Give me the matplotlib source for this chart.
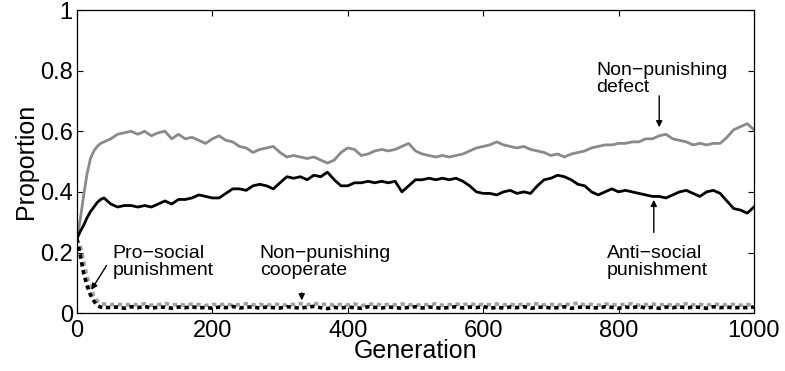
import matplotlib
matplotlib.use("Agg")
import matplotlib.pyplot as plt

plt.rcParams['font.family'] = ['Liberation Sans', 'DejaVu Sans']

generation = [0, 5, 10, 15, 20, 25, 30, 35, 40, 50, 60, 70, 80, 90, 100, 110, 120, 130, 140, 150,
              160, 170, 180, 190, 200, 210, 220, 230, 240, 250, 260, 270, 280, 290, 300, 310, 320,
              330, 340, 350, 360, 370, 380, 390, 400, 410, 420, 430, 440, 450, 460, 470, 480, 490,
              500, 510, 520, 530, 540, 550, 560, 570, 580, 590, 600, 610, 620, 630, 640, 650, 660,
              670, 680, 690, 700, 710, 720, 730, 740, 750, 760, 770, 780, 790, 800, 810, 820, 830,
              840, 850, 860, 870, 880, 890, 900, 910, 920, 930, 940, 950, 960, 970, 980, 990, 1000]

nonpunishing_defect = [0.245, 0.31, 0.39, 0.46, 0.51, 0.535, 0.55, 0.56, 0.565, 0.575, 0.59, 0.595,
                       0.60, 0.59, 0.60, 0.585, 0.595, 0.60, 0.575, 0.59, 0.575, 0.58, 0.57, 0.56,
                       0.575, 0.585, 0.57, 0.565, 0.55, 0.545, 0.53, 0.54, 0.545, 0.55, 0.53, 0.515,
                       0.52, 0.515, 0.51, 0.515, 0.505, 0.495, 0.505, 0.53, 0.545, 0.54, 0.52, 0.525,
                       0.535, 0.54, 0.535, 0.54, 0.55, 0.56, 0.535, 0.525, 0.52, 0.515, 0.52, 0.515,
                       0.52, 0.525, 0.535, 0.545, 0.55, 0.555, 0.565, 0.555, 0.55, 0.545, 0.55, 0.54,
                       0.535, 0.53, 0.52, 0.525, 0.515, 0.525, 0.53, 0.535, 0.545, 0.55, 0.555, 0.555,
                       0.56, 0.56, 0.565, 0.565, 0.575, 0.575, 0.585, 0.59, 0.575, 0.57, 0.565, 0.555,
                       0.56, 0.555, 0.56, 0.56, 0.58, 0.605, 0.615, 0.625, 0.605]

antisocial_punishment = [0.245, 0.27, 0.29, 0.315, 0.335, 0.35, 0.365, 0.375, 0.38, 0.36, 0.35, 0.355,
                         0.355, 0.35, 0.355, 0.35, 0.36, 0.37, 0.36, 0.375, 0.375, 0.38, 0.39, 0.385,
                         0.38, 0.38, 0.395, 0.41, 0.41, 0.405, 0.42, 0.425, 0.42, 0.41, 0.43, 0.45,
                         0.445, 0.45, 0.44, 0.455, 0.45, 0.465, 0.44, 0.42, 0.42, 0.43, 0.43, 0.435,
                         0.43, 0.435, 0.43, 0.435, 0.40, 0.42, 0.44, 0.44, 0.445, 0.44, 0.445, 0.44,
                         0.445, 0.435, 0.42, 0.40, 0.395, 0.395, 0.39, 0.40, 0.405, 0.395, 0.40, 0.395,
                         0.42, 0.44, 0.445, 0.455, 0.45, 0.44, 0.425, 0.42, 0.40, 0.39, 0.40, 0.41,
                         0.40, 0.405, 0.40, 0.395, 0.39, 0.385, 0.385, 0.38, 0.39, 0.40, 0.405, 0.395,
                         0.385, 0.40, 0.405, 0.395, 0.37, 0.345, 0.34, 0.33, 0.35]

nonpunishing_cooperate = [0.245, 0.22, 0.17, 0.12, 0.085, 0.055, 0.04, 0.032, 0.03, 0.028, 0.03, 0.026,
                          0.029, 0.027, 0.031, 0.026, 0.028, 0.032, 0.027, 0.029, 0.026, 0.03, 0.028,
                          0.025, 0.029, 0.027, 0.03, 0.026, 0.028, 0.031, 0.027, 0.029, 0.025, 0.03,
                          0.028, 0.026, 0.029, 0.031, 0.027, 0.033, 0.028, 0.03, 0.026, 0.029, 0.027,
                          0.03, 0.025, 0.028, 0.031, 0.026, 0.029, 0.027, 0.03, 0.028, 0.025, 0.029,
                          0.027, 0.031, 0.026, 0.028, 0.03, 0.027, 0.032, 0.026, 0.029, 0.028, 0.03,
                          0.027, 0.029, 0.026, 0.03, 0.028, 0.031, 0.027, 0.029, 0.026, 0.03, 0.028,
                          0.034, 0.027, 0.029, 0.026, 0.03, 0.028, 0.027, 0.029, 0.031, 0.026, 0.028,
                          0.03, 0.027, 0.029, 0.026, 0.028, 0.031, 0.027, 0.029, 0.026, 0.03, 0.028,
                          0.027, 0.029, 0.026, 0.028, 0.027]

prosocial_punishment = [0.245, 0.19, 0.13, 0.09, 0.06, 0.04, 0.025, 0.02, 0.018, 0.019, 0.02, 0.016,
                        0.021, 0.018, 0.022, 0.017, 0.019, 0.02, 0.016, 0.02, 0.018, 0.021, 0.017,
                        0.019, 0.016, 0.02, 0.018, 0.022, 0.017, 0.019, 0.021, 0.016, 0.02, 0.018,
                        0.017, 0.021, 0.019, 0.016, 0.02, 0.022, 0.018, 0.015, 0.019, 0.017, 0.02,
                        0.018, 0.016, 0.021, 0.019, 0.017, 0.02, 0.018, 0.016, 0.019, 0.021, 0.017,
                        0.02, 0.018, 0.016, 0.019, 0.021, 0.017, 0.02, 0.018, 0.022, 0.016, 0.019,
                        0.017, 0.02, 0.018, 0.021, 0.016, 0.019, 0.02, 0.017, 0.018, 0.021, 0.016,
                        0.019, 0.02, 0.018, 0.017, 0.021, 0.019, 0.016, 0.02, 0.018, 0.022, 0.017,
                        0.019, 0.016, 0.02, 0.018, 0.021, 0.017, 0.02, 0.019, 0.016, 0.021, 0.018,
                        0.02, 0.017, 0.019, 0.018, 0.02]

x_ticks = [0, 200, 400, 600, 800, 1000]
y_ticks = [0, 0.2, 0.4, 0.6, 0.8, 1]
y_tick_labels = ["0", "0.2", "0.4", "0.6", "0.8", "1"]

fig = plt.figure(figsize=(7.85, 3.71), dpi=100)
ax = fig.add_axes([0.098, 0.156, 0.8625, 0.817])

gray = '#8a8a8a'
ax.plot(generation, nonpunishing_cooperate, color='#a0a0a0', lw=2.6, ls=(0, (1.2, 1.0)))
ax.plot(generation, prosocial_punishment, color='black', lw=2.6, ls=(0, (1.2, 1.0)))
ax.plot(generation, nonpunishing_defect, color=gray, lw=2.0)
ax.plot(generation, antisocial_punishment, color='black', lw=2.0)

ax.set_xlim(0, 1000)
ax.set_ylim(0, 1)
ax.set_xticks(x_ticks)
ax.set_yticks(y_ticks)
ax.set_yticklabels(y_tick_labels)
ax.tick_params(direction='in', top=True, right=True, length=4, width=0.8, labelsize=17)
ax.tick_params(axis='x', pad=5)
ax.tick_params(axis='y', pad=3)
for s in ax.spines.values():
    s.set_linewidth(0.9)

ax.set_xlabel('Generation', fontsize=18, labelpad=-2)
ax.set_ylabel('Proportion', fontsize=18, labelpad=1)

afs = 14
arrow = dict(arrowstyle='-|>', color='black', lw=1.0, mutation_scale=9)
ax.text(767, 0.772, 'Non\u2212punishing\ndefect', fontsize=afs, ha='left', va='center',
        linespacing=1.0)
ax.annotate('', xy=(860, 0.604), xytext=(860, 0.726), arrowprops=arrow)
ax.text(783, 0.17, 'Anti\u2212social\npunishment', fontsize=afs, ha='left', va='center',
        linespacing=1.0)
ax.annotate('', xy=(852, 0.383), xytext=(852, 0.257), arrowprops=arrow)
ax.text(53, 0.17, 'Pro\u2212social\npunishment', fontsize=afs, ha='left', va='center',
        linespacing=1.0)
ax.annotate('', xy=(19, 0.069), xytext=(46, 0.165), arrowprops=arrow)
ax.text(270, 0.17, 'Non\u2212punishing\ncooperate', fontsize=afs, ha='left', va='center',
        linespacing=1.0)
ax.annotate('', xy=(332, 0.033), xytext=(332, 0.076), arrowprops=arrow)

fig.savefig('out.png', dpi=100)
